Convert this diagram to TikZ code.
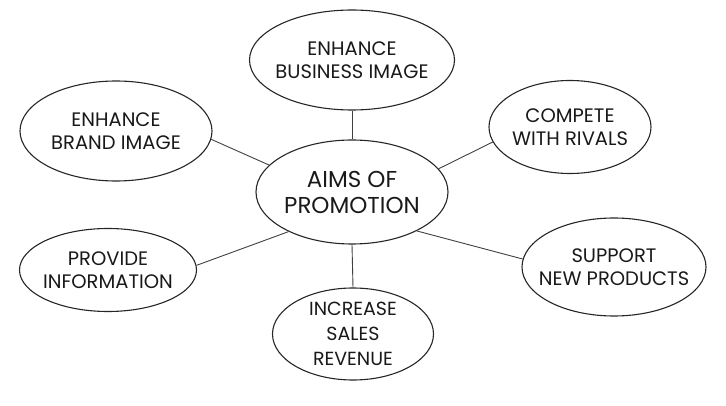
\documentclass[tikz,border=0pt]{standalone}
\usepackage{fontspec}
\setmainfont{Poppins}
\usetikzlibrary{shapes.geometric}
\tikzset{
  aim/.style={ellipse, draw=black!85, line width=1.1pt, inner sep=0pt},
  lbl/.style={align=center, inner sep=0pt, font=\fontsize{19.5}{22.5}\selectfont, text=black!90},
  link/.style={draw=black!75, line width=0.9pt}
}
\begin{document}
\begin{tikzpicture}[x=1pt,y=-1pt]
\useasboundingbox (0,0) rectangle (726,406);
\node[aim, minimum width=192pt, minimum height=104pt,
  label={[lbl, font=\fontsize{23}{26}\selectfont]center:{AIMS OF\\PROMOTION}}] (c) at (352,192) {};
\node[aim, minimum width=205pt, minimum height=100pt,
  label={[lbl]center:{ENHANCE\\BUSINESS IMAGE}}] (bus) at (352,60) {};
\node[aim, minimum width=192pt, minimum height=100pt,
  label={[lbl]center:{ENHANCE\\BRAND IMAGE}}] (brand) at (116,131) {};
\node[aim, minimum width=162pt, minimum height=93pt,
  label={[lbl]center:{COMPETE\\WITH RIVALS}}] (comp) at (570,127) {};
\node[aim, minimum width=177pt, minimum height=83pt,
  label={[lbl]center:{PROVIDE\\INFORMATION}}] (info) at (108,270) {};
\node[aim, minimum width=184pt, minimum height=98pt,
  label={[lbl]center:{SUPPORT\\NEW PRODUCTS}}] (supp) at (614,267) {};
\node[aim, minimum width=161pt, minimum height=92pt,
  label={[lbl, font=\fontsize{19}{25}\selectfont]center:{INCREASE\\SALES\\REVENUE}}] (inc) at (353,334) {};
\draw[link] (c.north) -- (bus.south);
\draw[link] (c.south) -- (inc.north);
\draw[link] (c.162) -- (brand.-5);
\draw[link] (c.15) -- (comp.191);
\draw[link] (c.212) -- (info.3);
\draw[link] (c.-31) -- (supp.175);
\end{tikzpicture}
\end{document}
